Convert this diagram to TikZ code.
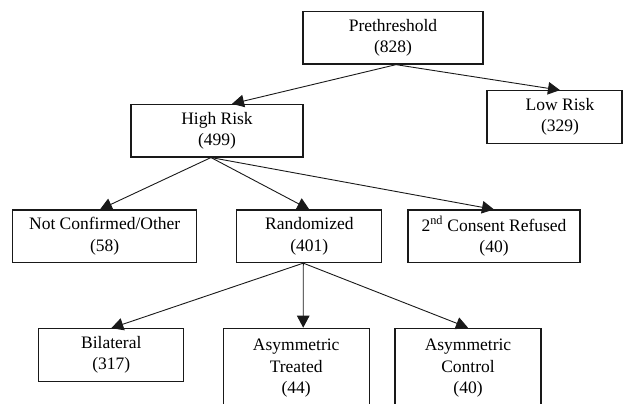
\documentclass[tikz,border=0pt]{standalone}
\usepackage{fontspec}
\setmainfont{Liberation Serif}
\usetikzlibrary{arrows.meta}
\begin{document}
\begin{tikzpicture}[x=1pt,y=-1pt,
  box/.style={draw=black!90, line width=1.2pt, inner sep=0pt, align=center,
    font=\fontsize{17.5}{21.5}\selectfont, minimum height=52.5pt},
  arr/.style={draw=black!90, line width=0.9pt, -{Triangle[length=12pt,width=12.5pt]}}]
\useasboundingbox (0,0) rectangle (624,404);
\clip (0,0) rectangle (624,404);
\node[box, minimum width=180pt] (pre) at (393,37.8) {Prethreshold\\(828)};
\node[box, minimum width=135pt] (low) at (554.5,117) {\hspace*{11pt}Low Risk\\\hspace*{11pt}(329)};
\node[box, minimum width=172pt] (high) at (217,130.7) {High Risk\\(499)};
\node[box, minimum width=184pt] (nc) at (104.7,236.3) {Not Confirmed/Other\\(58)};
\node[box, minimum width=145pt] (rand) at (309.3,236.3) {Randomized\\(401)};
\node[box, minimum width=172pt] (cons) at (494,236.3) {2\textsuperscript{nd} Consent Refused\\(40)};
\node[box, minimum width=145pt] (bil) at (111.3,355) {Bilateral\\(317)};
\node[box, minimum width=146pt, minimum height=80pt] (at) at (296.2,368.3) {Asymmetric\\Treated\\(44)};
\node[box, minimum width=146pt, minimum height=80pt] (ac) at (468,368.3) {Asymmetric\\Control\\(40)};
\draw[arr] ([xshift=3pt]pre.south) -- ([xshift=15pt]high.north);
\draw[arr] ([xshift=3pt]pre.south) -- ([xshift=5.5pt]low.north);
\draw[arr] ([xshift=-6pt]high.south) -- ([xshift=-4.7pt]nc.north);
\draw[arr] ([xshift=-6pt]high.south) -- (rand.north);
\draw[arr] ([xshift=-6pt]high.south) -- (cons.north);
\draw[arr] ([xshift=-6pt]rand.south) -- (bil.north);
\draw[arr] ([xshift=-6pt]rand.south) -- ([xshift=7pt]at.north);
\draw[arr] ([xshift=-6pt]rand.south) -- (ac.north);
\end{tikzpicture}
\end{document}
